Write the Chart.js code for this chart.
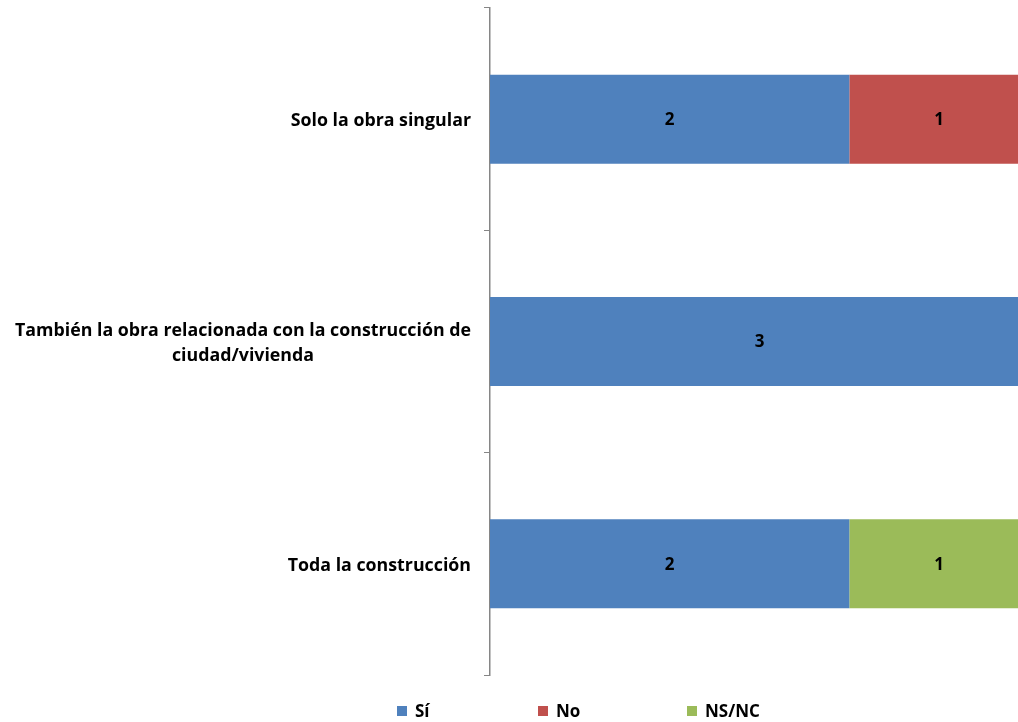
<!DOCTYPE html>
<html>
<head>
<meta charset="utf-8">
<script src="https://cdn.jsdelivr.net/npm/chart.js@4.4.1/dist/chart.umd.min.js"></script>
<style>
  html, body { margin: 0; padding: 0; background: #fff; overflow: hidden; }
  .chart-box { position: relative; width: 1029px; height: 722px; }
</style>
</head>
<body>
<div class="chart-box">
  <canvas id="encuesta"></canvas>
</div>
<script>
// datos
const categorias = [
  "Solo la obra singular",
  ["También la obra relacionada con la construcción de", "ciudad/vivienda"],
  "Toda la construcción"
];
const valoresSi = [2, 3, 2];
const valoresNo = [1, 0, 0];
const valoresNsnc = [0, 0, 1];

const series = ["Sí", "No", "NS/NC"];
const colores = ["#4f81bd", "#c0504d", "#9bbb59"];

const fuente = "'Open Sans', Lato, sans-serif";

// numeros dentro de las barras
const etiquetasBarras = {
  id: 'etiquetasBarras',
  afterDatasetsDraw(chart) {
    const ctx = chart.ctx;
    ctx.save();
    ctx.font = "bold 17px " + fuente;
    ctx.fillStyle = "#000";
    ctx.textAlign = "center";
    ctx.textBaseline = "middle";
    chart.data.datasets.forEach((ds, i) => {
      chart.getDatasetMeta(i).data.forEach((bar, j) => {
        const v = ds.data[j];
        if (!v) return;
        ctx.fillText(String(v), (bar.x + bar.base) / 2, bar.y + 1);
      });
    });
    ctx.restore();
  }
};

// etiquetas del eje: alineadas a la derecha, varias lineas centradas entre si
const etiquetasEje = {
  id: 'etiquetasEje',
  afterDraw(chart) {
    const ctx = chart.ctx;
    const yScale = chart.scales.y;
    ctx.save();
    ctx.font = "bold 17.8px " + fuente;
    ctx.fillStyle = "#000";
    ctx.textAlign = "center";
    ctx.textBaseline = "middle";
    const derecha = yScale.right - 19;
    const altoLinea = 25;
    chart.data.labels.forEach((lab, i) => {
      const lineas = Array.isArray(lab) ? lab : [lab];
      const ancho = Math.max(...lineas.map(l => ctx.measureText(l).width));
      const cx = derecha - ancho / 2;
      const cy = yScale.getPixelForValue(i) + 2;
      const y0 = cy - (lineas.length - 1) * altoLinea / 2;
      lineas.forEach((l, k) => ctx.fillText(l, cx, y0 + k * altoLinea));
    });
    ctx.restore();
  }
};

// leyenda abajo (centrada sobre el area del grafico como en excel)
const posLeyenda = [397, 538, 687];
const leyendaAbajo = {
  id: 'leyendaAbajo',
  afterDraw(chart) {
    const ctx = chart.ctx;
    ctx.save();
    ctx.font = "bold 17px " + fuente;
    ctx.textBaseline = "middle";
    const y = 711;
    chart.data.datasets.forEach((ds, i) => {
      const x = posLeyenda[i];
      ctx.fillStyle = ds.backgroundColor;
      ctx.fillRect(x, y - 5, 10, 10);
      ctx.fillStyle = "#000";
      ctx.fillText(ds.label, x + 18, y + 1);
    });
    ctx.restore();
  }
};

const datos = [valoresSi, valoresNo, valoresNsnc];

const config = {
  type: 'bar',
  data: {
    labels: categorias,
    datasets: series.map((s, i) => ({
      label: s,
      data: datos[i],
      backgroundColor: colores[i],
      borderWidth: 0,
      barPercentage: 0.4,
      categoryPercentage: 1
    }))
  },
  options: {
    indexAxis: 'y',
    responsive: true,
    maintainAspectRatio: false,
    animation: false,
    layout: { padding: { top: 8, bottom: 47, right: 0 } },
    scales: {
      x: {
        stacked: true,
        min: 0,
        max: 3,
        display: false
      },
      y: {
        stacked: true,
        offset: true,
        border: { display: true, color: "#868686", width: 1.5 },
        grid: {
          display: true,
          drawOnChartArea: false,
          drawTicks: true,
          tickLength: 6,
          color: "#868686",
          offset: true
        },
        ticks: {
          display: false
        },
        afterFit(scale) { scale.width = 490; scale.paddingTop = 0; scale.paddingBottom = 0; }
      }
    },
    plugins: {
      legend: { display: false },
      tooltip: { enabled: false }
    }
  },
  plugins: [etiquetasBarras, etiquetasEje, leyendaAbajo]
};

new Chart(document.getElementById('encuesta'), config);
</script>
</body>
</html>
